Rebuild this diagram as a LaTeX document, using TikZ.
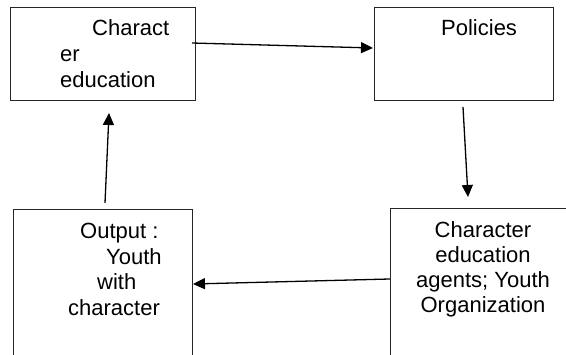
\documentclass[tikz,border=0pt]{standalone}
\usepackage{fontspec}
\setmainfont{Liberation Sans}
\usetikzlibrary{arrows.meta}
\begin{document}
\begin{tikzpicture}[x=1pt,y=-1pt,
  box/.style={draw=black!85, line width=0.9pt, rectangle, inner sep=0pt, anchor=north west},
  lbl/.style={anchor=base west, inner sep=0pt, font=\fontsize{22}{26}\selectfont},
  clbl/.style={anchor=base, inner sep=0pt, font=\fontsize{22}{26}\selectfont},
  conn/.style={line width=1.3pt, -{Triangle[length=12pt,width=11pt]}}]
\useasboundingbox (0,0) rectangle (566,355);
\clip (0,0) rectangle (566,355);
\fill[white] (0,0) rectangle (566,355);
% boxes
\node[box, minimum width=185pt, minimum height=93pt] (A) at (10,7) {};
\node[box, minimum width=179pt, minimum height=93pt] (B) at (374,7) {};
\node[box, minimum width=179pt, minimum height=180pt] (D) at (13,209) {};
\node[box, minimum width=220pt, minimum height=180pt] (C) at (390,208) {};
% texts
\node[lbl] (a1) at (92,36) {Charact};
\node[lbl] (a2) at (60,62) {er};
\node[lbl] (a3) at (60,88) {education};
\node[lbl] (b1) at (441,36) {Policies};
\node[lbl] (d1) at (80,239) {Output :};
\node[lbl] (d2) at (106,265) {Youth};
\node[lbl] (d3) at (97,290) {with};
\node[lbl] (d4) at (68,316) {character};
\node[clbl] (c1) at (483,238) {Character};
\node[clbl] (c2) at (483,263) {education};
\node[clbl] (c3) at (483,288) {agents; Youth};
\node[clbl] (c4) at (483,313) {Organization};
% connector end points
\coordinate (ab1) at (192,43);
\coordinate (ab2) at (373,48);
\coordinate (bc1) at (463,107);
\coordinate (bc2) at (468,197);
\coordinate (cd1) at (390,279);
\coordinate (cd2) at (193,284);
\coordinate (da1) at (105,203);
\coordinate (da2) at (109,113);
\draw[conn] (ab1) -- (ab2);
\draw[conn] (bc1) -- (bc2);
\draw[conn] (cd1) -- (cd2);
\draw[conn] (da1) -- (da2);
\end{tikzpicture}
\end{document}
